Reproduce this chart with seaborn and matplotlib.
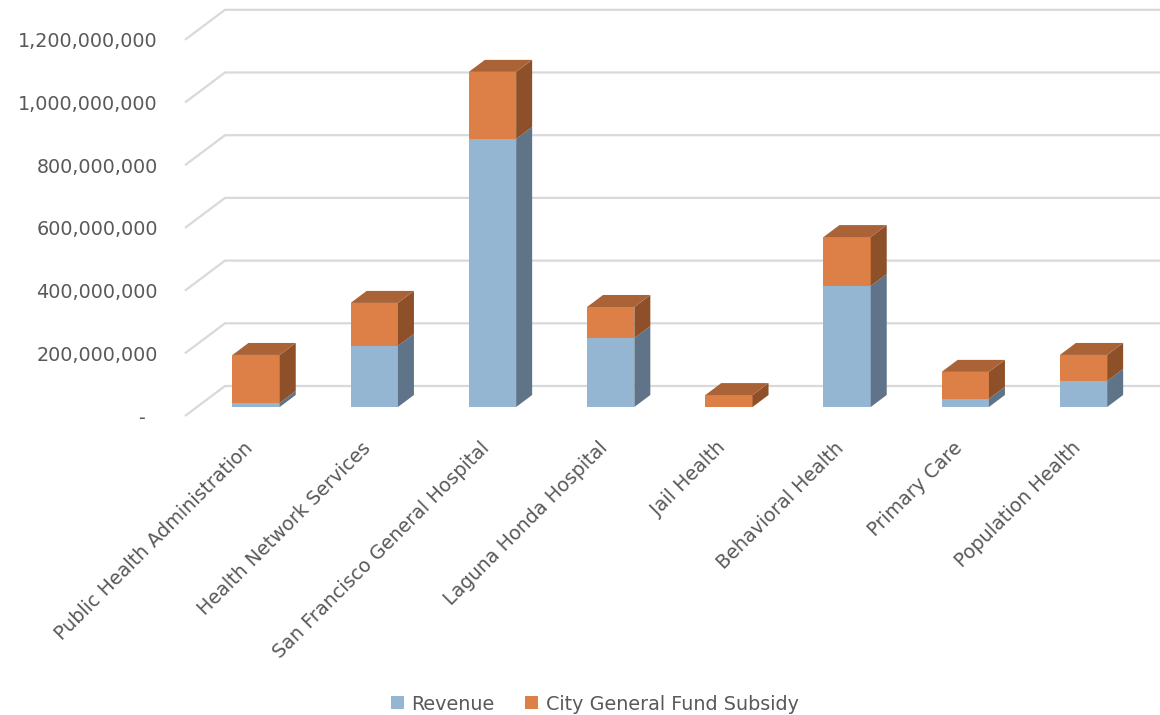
import matplotlib
matplotlib.use("Agg")
import matplotlib.pyplot as plt
import matplotlib.transforms as mtransforms
from matplotlib.patches import Polygon, Patch
import seaborn as sns
import pandas as pd

categories = ["Public Health Administration", "Health Network Services",
              "San Francisco General Hospital", "Laguna Honda Hospital",
              "Jail Health", "Behavioral Health", "Primary Care", "Population Health"]
revenue = [13e6, 195e6, 855e6, 220e6, 0, 386e6, 26e6, 83e6]
subsidy = [153e6, 137e6, 214e6, 99e6, 38e6, 156e6, 86e6, 83e6]
yticks = [0, 200e6, 400e6, 600e6, 800e6, 1000e6, 1200e6]
series_names = ["Revenue", "City General Fund Subsidy"]

BLUE, BLUE_SIDE = "#94B6D2", "#5F7488"
ORANGE, ORANGE_SIDE, ORANGE_TOP = "#DD8047", "#8D5029", "#A96337"
GRID = "#D9D9D9"
TXT = "#595959"

sns.set_style("white")
plt.rcParams["font.family"] = ["DejaVu Sans"]
FS = 13.8

W, H, DPI = 1160, 715, 100
fig = plt.figure(figsize=(W / DPI, H / DPI), dpi=DPI)
ax_l, ax_r, ax_b, ax_t = 185, 1130.6, 299, 675.2
ax = fig.add_axes([ax_l / W, ax_b / H, (ax_r - ax_l) / W, (ax_t - ax_b) / H])

df = pd.DataFrame({"cat": categories, "rev": revenue, "sub": subsidy})
df["total"] = df["rev"] + df["sub"]

bw = 0.40
sns.barplot(data=df, x="cat", y="total", color=ORANGE, saturation=1, width=bw,
            ax=ax, linewidth=0, zorder=3)
sns.barplot(data=df, x="cat", y="rev", color=BLUE, saturation=1, width=bw,
            ax=ax, linewidth=0, zorder=3)

ax.set_xlim(-0.5, len(categories) - 0.5)
ax.set_ylim(0, 1200e6)

px_x = (ax_r - ax_l) / len(categories)        # px per category unit
px_y = (ax_t - ax_b) / 1200e6                 # px per value unit

# bars sit in a plane slightly behind the front floor edge
bar_off = mtransforms.ScaledTranslation(12 / DPI, 9 / DPI, fig.dpi_scale_trans)
bar_tr = ax.transData + bar_off
for p in ax.patches:
    p.set_transform(bar_tr)

# depth of bars
ddx = 16 / px_x
ddy = 12 / px_y
for i, (r, s) in enumerate(zip(revenue, subsidy)):
    xr = i + bw / 2
    xl = i - bw / 2
    segs = []
    if r > 0:
        segs.append((0, r, BLUE_SIDE))
    segs.append((r, r + s, ORANGE_SIDE))
    for y0, y1, col in segs:
        ax.add_patch(Polygon([(xr, y0), (xr + ddx, y0 + ddy), (xr + ddx, y1 + ddy), (xr, y1)],
                             closed=True, facecolor=col, edgecolor="none",
                             transform=bar_tr, zorder=3))
    top = r + s
    ax.add_patch(Polygon([(xl, top), (xr, top), (xr + ddx, top + ddy), (xl + ddx, top + ddy)],
                         closed=True, facecolor=ORANGE_TOP, edgecolor="none",
                         transform=bar_tr, zorder=3))

# gridlines: diagonal side wall + back wall
gdx = 40 / px_x
gdy = 30 / px_y
x0 = -0.5
x_end = x0 + (W + 20 - ax_l) / px_x
for v in yticks:
    ax.plot([x0, x0 + gdx, x_end], [v, v + gdy, v + gdy], color=GRID, lw=1.6,
            clip_on=False, zorder=0, solid_capstyle="butt")

ax.grid(False)
for sp in ax.spines.values():
    sp.set_visible(False)

ax.set_yticks(yticks)
ax.set_yticklabels([f"{int(v):,}" if v else "-  " for v in yticks], fontsize=FS, color=TXT)
ax.tick_params(axis="y", length=0, pad=19.5)
ax.tick_params(axis="x", length=0, pad=21)
ax.set_xticks(range(len(categories)))
ax.set_xticklabels(categories, rotation=45, ha="right", rotation_mode="anchor",
                   fontsize=FS, color=TXT, va="center")
lab_off = mtransforms.ScaledTranslation(6 / DPI, 0, fig.dpi_scale_trans)
for lab in ax.get_xticklabels():
    lab.set_transform(lab.get_transform() + lab_off)
ax.set_xlabel("")
ax.set_ylabel("")

handles = [Patch(facecolor=BLUE, edgecolor="none"), Patch(facecolor=ORANGE, edgecolor="none")]
leg = fig.legend(handles, series_names, loc="center", bbox_to_anchor=(595 / W, 1 - 704 / H),
                 ncol=2, frameon=False, fontsize=FS, handlelength=0.65, handleheight=0.65,
                 handletextpad=0.4, columnspacing=1.6, labelcolor=TXT)

fig.savefig("out.png", dpi=DPI, facecolor="white")
